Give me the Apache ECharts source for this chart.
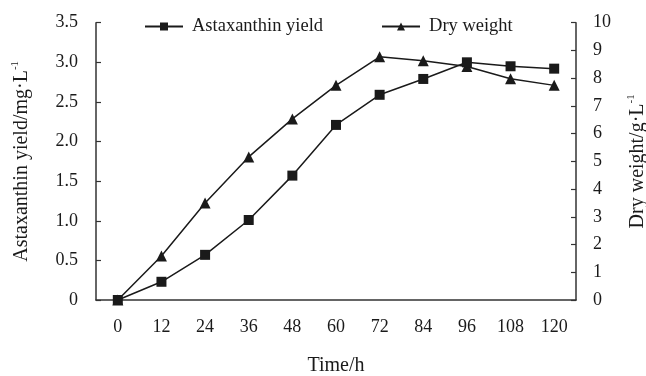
<!DOCTYPE html>
<html>
<head>
<meta charset="utf-8">
<script src="https://cdn.jsdelivr.net/npm/echarts@6/dist/echarts.min.js"></script>
<style>html,body{margin:0;padding:0;background:#fff}#c{width:646px;height:376px}</style>
</head>
<body>
<div id="c"></div>
<script>
var categories = ['0','12','24','36','48','60','72','84','96','108','120'];
var astaxanthin = [0, 0.23, 0.57, 1.01, 1.57, 2.21, 2.59, 2.79, 3.0, 2.95, 2.92];
var dryWeight = [0, 1.59, 3.5, 5.16, 6.53, 7.74, 8.77, 8.63, 8.42, 7.98, 7.74];
var seriesNames = ['Astaxanthin yield', 'Dry weight'];

var FONT = '"Liberation Serif","Times New Roman",serif';
var C = '#1a1a1a';
var chart = echarts.init(document.getElementById('c'), null, {renderer:'canvas'});
chart.setOption({
  animation: false,
  backgroundColor: '#fff',
  textStyle: {fontFamily: FONT, color: C},
  legend: {
    left: 139, top: 12,
    itemWidth: 38, itemHeight: 10, itemGap: 58,
    textStyle: {fontFamily: FONT, fontSize: 18.5, color: C, padding: [0,0,0,4]},
    data: seriesNames
  },
  grid: {left: 96, right: 70, top: 22.7, bottom: 76, containLabel: false, outerBoundsMode: 'none'},
  xAxis: {
    type: 'category', data: categories, boundaryGap: true,
    name: 'Time/h', nameLocation: 'middle', nameGap: 56,
    nameTextStyle: {fontFamily: FONT, fontSize: 20, color: C},
    axisLine: {lineStyle: {color: '#333', width: 1.5}},
    axisTick: {inside: true, length: 5, lineStyle: {color: '#333', width: 1.2}},
    axisLabel: {fontFamily: FONT, fontSize: 18, color: C, margin: 18}
  },
  yAxis: [{
    type: 'value', min: 0, max: 3.5, interval: 0.5, position: 'left',
    name: '{a|Astaxanthin yield/mg·L}{b|-1}', nameLocation: 'middle', nameRotate: 90, nameGap: 64,
    nameTextStyle: {rich: {
      a: {fontFamily: FONT, fontSize: 20, color: C, lineHeight: 22, verticalAlign: 'bottom'},
      b: {fontFamily: FONT, fontSize: 11, color: C, lineHeight: 22, verticalAlign: 'top'}
    }},
    axisLine: {show: true, lineStyle: {color: '#333', width: 1.5}},
    axisTick: {show: true, inside: true, length: 5, lineStyle: {color: '#333', width: 1.2}},
    splitLine: {show: false},
    axisLabel: {fontFamily: FONT, fontSize: 18, color: C, margin: 18,
      formatter: function(v){ return v === 0 ? '0' : v.toFixed(1); }}
  }, {
    type: 'value', min: 0, max: 10, interval: 1, position: 'right',
    name: '{a|Dry weight/g·L}{b|-1}', nameLocation: 'middle', nameRotate: 90, nameGap: 50,
    nameTextStyle: {rich: {
      a: {fontFamily: FONT, fontSize: 20, color: C, lineHeight: 22, verticalAlign: 'bottom'},
      b: {fontFamily: FONT, fontSize: 11, color: C, lineHeight: 22, verticalAlign: 'top'}
    }},
    axisLine: {show: true, lineStyle: {color: '#333', width: 1.5}},
    axisTick: {show: true, inside: true, length: 5, lineStyle: {color: '#333', width: 1.2}},
    splitLine: {show: false},
    axisLabel: {fontFamily: FONT, fontSize: 18, color: C, margin: 17}
  }],
  series: [{
    name: seriesNames[0], type: 'line', yAxisIndex: 0, data: astaxanthin,
    symbol: 'rect', symbolSize: 10, z: 3,
    lineStyle: {color: C, width: 1.5}, itemStyle: {color: C}
  }, {
    name: seriesNames[1], type: 'line', yAxisIndex: 1, data: dryWeight,
    symbol: 'triangle', symbolSize: 11, z: 2,
    lineStyle: {color: C, width: 1.5}, itemStyle: {color: C}
  }]
});
</script>
</body>
</html>
